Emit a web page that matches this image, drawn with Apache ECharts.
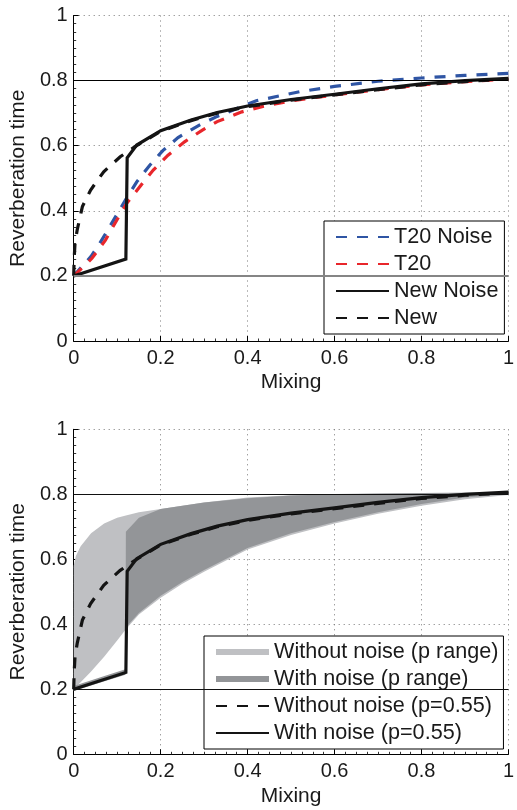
<!DOCTYPE html>
<html><head><meta charset="utf-8">
<script src="https://cdn.jsdelivr.net/npm/echarts@6/dist/echarts.min.js"></script>
<style>html,body{margin:0;padding:0;background:#fff}#c{width:517px;height:810px}</style>
</head><body><div id="c"></div>
<script>
// ---------- data ----------
const refLevels = [0.2, 0.8];

// Top panel
const t20NoiseX = [0,0.02,0.04,0.06,0.08,0.1,0.12,0.145,0.175,0.205,0.24,0.29,0.33,0.42,0.52,0.6,0.7,0.8,0.9,1];
const t20NoiseY = [0.2,0.23,0.26,0.3,0.345,0.39,0.435,0.489,0.54,0.585,0.625,0.664,0.69,0.738,0.766,0.782,0.798,0.808,0.816,0.822];
const t20X = [0,0.02,0.042,0.073,0.095,0.122,0.152,0.183,0.217,0.255,0.296,0.33,0.387,0.433,0.5,0.6,0.7,0.8,0.9,1];
const t20Y = [0.2,0.225,0.254,0.31,0.362,0.423,0.474,0.525,0.571,0.612,0.648,0.674,0.704,0.72,0.738,0.756,0.772,0.787,0.797,0.805];
const newNoiseX = [0,0.12,0.123,0.145,0.2,0.27,0.33,0.4,0.5,0.6,0.7,0.8,0.9,1];
const newNoiseY = [0.2,0.252,0.563,0.602,0.646,0.679,0.702,0.722,0.742,0.758,0.775,0.79,0.8,0.807];
const newX = [0,0.001,0.003,0.008,0.02,0.039,0.069,0.107,0.141,0.2,0.27,0.33,0.4,0.5,0.6,0.7,0.8,0.9,1];
const newY = [0.2,0.25,0.3,0.341,0.413,0.464,0.52,0.566,0.597,0.644,0.677,0.7,0.72,0.74,0.756,0.772,0.787,0.797,0.805];

// Bottom panel: ranges over p
const lightX = [0,0.005,0.016,0.04,0.07,0.1,0.12,0.15,0.2,0.25,0.3,0.4,0.5,0.6,0.7,0.8,0.9,1];
const lightLow = [0.2,0.207,0.222,0.255,0.3,0.35,0.385,0.43,0.482,0.525,0.562,0.63,0.675,0.71,0.74,0.765,0.785,0.798];
const lightHigh = [0.58,0.61,0.64,0.68,0.71,0.728,0.735,0.745,0.755,0.765,0.775,0.79,0.797,0.801,0.803,0.804,0.805,0.806];
const darkX = [0,0.06,0.119,0.12,0.15,0.2,0.25,0.3,0.4,0.5,0.6,0.7,0.8,0.9,1];
const darkLow = [0.195,0.22,0.245,0.39,0.435,0.488,0.53,0.567,0.635,0.68,0.715,0.745,0.77,0.79,0.8];
const darkHigh = [0.21,0.236,0.262,0.685,0.728,0.755,0.765,0.775,0.788,0.796,0.8,0.802,0.804,0.805,0.806];

// ---------- helpers ----------
const zip = (xs, ys) => xs.map((x, i) => [x, ys[i]]);
const FONT = 'Liberation Sans, Arial, Helvetica, sans-serif';
const TXT = '#1a1a1a';
const DASH = [11, 10];

function mkX(gi) {
  return {
    type: 'value', gridIndex: gi, min: 0, max: 1, interval: 0.2,
    name: 'Mixing', nameLocation: 'middle', nameGap: 31,
    nameTextStyle: { fontSize: 21, color: TXT, fontFamily: FONT },
    axisLine: { show: true, onZero: false, lineStyle: { color: '#000', width: 1 } },
    axisTick: { show: true, inside: true, length: 5, lineStyle: { color: '#000' } },
    minorTick: { show: true, splitNumber: 8, length: 2.5, lineStyle: { color: '#333' } },
    axisLabel: { fontSize: 20, color: TXT, fontFamily: FONT, margin: 7 },
    splitLine: { show: true, lineStyle: { color: '#777', width: 1, type: [1, 4] } }
  };
}
function mkY(gi) {
  return {
    type: 'value', gridIndex: gi, min: 0, max: 1, interval: 0.2,
    name: 'Reverberation time', nameLocation: 'middle', nameGap: 44,
    nameTextStyle: { fontSize: 21, color: TXT, fontFamily: FONT },
    axisLine: { show: true, onZero: false, lineStyle: { color: '#000', width: 1 } },
    axisTick: { show: true, inside: true, length: 5, lineStyle: { color: '#000' } },
    minorTick: { show: true, splitNumber: 8, length: 2.5, lineStyle: { color: '#333' } },
    axisLabel: { fontSize: 20, color: TXT, fontFamily: FONT, margin: 6 },
    splitLine: { show: true, lineStyle: { color: '#777', width: 1, type: [1, 4] } }
  };
}
function refLines(colors, widths) {
  return {
    silent: true, symbol: ['none', 'none'], label: { show: false }, animation: false,
    data: refLevels.map((v, i) => ({ yAxis: v, lineStyle: { color: colors[i], width: widths[i], type: 'solid' } }))
  };
}
function lineS(name, xs, ys, color, dashed, gi, extra) {
  return Object.assign({
    type: 'line', name, xAxisIndex: gi, yAxisIndex: gi, data: zip(xs, ys),
    symbol: 'none', showSymbol: false,
    lineStyle: { color, width: 3.2, type: dashed ? DASH : 'solid', cap: 'butt', join: 'miter' },
    itemStyle: { color }, z: 3
  }, extra || {});
}
function bandS(name, xs, lo, hi, color, gi, extra) {
  return Object.assign({
    type: 'custom', name, xAxisIndex: gi, yAxisIndex: gi,
    data: xs.map((x, i) => [x, lo[i], hi[i]]),
    encode: { x: 0, y: [1, 2] },
    itemStyle: { color },
    z: 2,
    renderItem: function (params, api) {
      if (params.dataIndex !== 0) return null;
      const pts = [];
      for (let i = 0; i < xs.length; i++) pts.push(api.coord([xs[i], hi[i]]));
      for (let i = xs.length - 1; i >= 0; i--) pts.push(api.coord([xs[i], lo[i]]));
      return { type: 'polygon', shape: { points: pts }, style: { fill: color }, silent: true };
    }
  }, extra || {});
}

const legendBase = {
  orient: 'vertical', itemWidth: 53, itemHeight: 6, itemGap: 5,
  backgroundColor: '#fff', borderColor: '#000', borderWidth: 1, borderRadius: 0,
  textStyle: { fontSize: 21.6, color: TXT, fontFamily: FONT },
  selectedMode: false
};

const chart = echarts.init(document.getElementById('c'), null, { renderer: 'canvas' });
chart.setOption({
  animation: false,
  backgroundColor: '#fff',
  grid: [
    { left: 73, top: 15.5, width: 440, height: 325.5, containLabel: false },
    { left: 73, top: 429.3, width: 440, height: 325, containLabel: false }
  ],
  xAxis: [mkX(0), mkX(1)],
  yAxis: [mkY(0), mkY(1)],
  legend: [
    Object.assign({}, legendBase, {
      left: 324, top: 221, padding: [5, 6, 5, 11],
      data: [
        { name: 'T20 Noise', itemStyle: { opacity: 0 } },
        { name: 'T20', itemStyle: { opacity: 0 } },
        { name: 'New Noise', itemStyle: { opacity: 0 } },
        { name: 'New', itemStyle: { opacity: 0 } }
      ]
    }),
    Object.assign({}, legendBase, {
      left: 204, top: 636, padding: [5, 5, 5, 11],
      data: [
        { name: 'Without noise (p range)', icon: 'rect' },
        { name: 'With noise (p range)', icon: 'rect' },
        { name: 'Without noise (p=0.55)', itemStyle: { opacity: 0 } },
        { name: 'With noise (p=0.55)', itemStyle: { opacity: 0 } }
      ]
    })
  ],
  series: [
    // top panel
    lineS('T20 Noise', t20NoiseX, t20NoiseY, '#2f55a4', true, 0, {
      markLine: refLines(['#858585', '#000'], [2, 1])
    }),
    lineS('T20', t20X, t20Y, '#e8262b', true, 0),
    lineS('New Noise', newNoiseX, newNoiseY, '#141414', false, 0),
    lineS('New', newX, newY, '#141414', true, 0),
    // bottom panel
    bandS('Without noise (p range)', lightX, lightLow, lightHigh, '#bfc0c3', 1, {
      markLine: refLines(['#111', '#111'], [1, 1])
    }),
    bandS('With noise (p range)', darkX, darkLow, darkHigh, '#939598', 1),
    lineS('Without noise (p=0.55)', newX, newY, '#141414', true, 1),
    lineS('With noise (p=0.55)', newNoiseX, newNoiseY, '#141414', false, 1)
  ]
});
</script></body></html>
